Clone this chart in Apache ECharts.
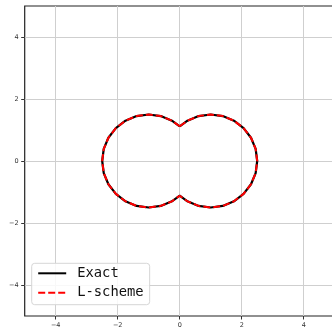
<!DOCTYPE html>
<html>
<head>
<meta charset="utf-8">
<script src="https://cdn.jsdelivr.net/npm/echarts@6/dist/echarts.min.js"></script>
<style>
  html, body { margin: 0; padding: 0; background: #fff; }
  #chart { width: 332px; height: 329px; }
</style>
</head>
<body>
<div id="chart"></div>
<script>
// Closed boundary of the two-lobe domain (x, y), traced clockwise from the upper notch.
const exactX = [0, 0.25, 0.61, 1.0, 1.39, 1.75, 2.06, 2.30, 2.45, 2.5, 2.45, 2.30, 2.06, 1.75, 1.39, 1.0, 0.61, 0.25,
                0, -0.25, -0.61, -1.0, -1.39, -1.75, -2.06, -2.30, -2.45, -2.5, -2.45, -2.30, -2.06, -1.75, -1.39, -1.0, -0.61, -0.25, 0];
const exactY = [1.12, 1.30, 1.45, 1.5, 1.45, 1.30, 1.06, 0.75, 0.39, 0, -0.39, -0.75, -1.06, -1.30, -1.45, -1.5, -1.45, -1.30,
                -1.12, -1.30, -1.45, -1.5, -1.45, -1.30, -1.06, -0.75, -0.39, 0, 0.39, 0.75, 1.06, 1.30, 1.45, 1.5, 1.45, 1.30, 1.12];
// L-scheme solution lies on top of the exact boundary.
const lschemeX = exactX.slice();
const lschemeY = exactY.slice();

const seriesNames = ['Exact', 'L-scheme'];
const tickValues = [-4, -2, 0, 2, 4];

const pairs = (xs, ys) => xs.map((x, i) => [x, ys[i]]);

const chart = echarts.init(document.getElementById('chart'));

const makeAxis = () => ({
  type: 'value',
  min: -5,
  max: 5,
  axisLine: { show: false, onZero: false },
  axisTick: { show: true, customValues: tickValues, length: 3.5, lineStyle: { color: '#333', width: 1 } },
  splitLine: { show: true, lineStyle: { color: '#cfcfcf', width: 1 } },
  axisLabel: {
    customValues: tickValues,
    fontFamily: 'DejaVu Sans',
    fontSize: 6.5,
    color: '#333',
    margin: 6,
    formatter: v => String(v).replace('-', '\u2212')
  }
});

chart.setOption({
  animation: false,
  backgroundColor: '#fff',
  grid: {
    left: 24.7, top: 6, width: 310, height: 310,
    show: true, borderColor: '#222', borderWidth: 1.2, backgroundColor: 'transparent',
    containLabel: false,
    outerBoundsMode: 'none'
  },
  xAxis: makeAxis(),
  yAxis: makeAxis(),
  legend: {
    left: 31.7, top: 263.3,
    orient: 'vertical',
    data: seriesNames,
    itemWidth: 28,
    itemHeight: 16,
    itemGap: 5.4,
    padding: [3, 6, 5, 5.5],
    backgroundColor: 'rgba(255,255,255,0.85)',
    borderColor: '#d6d6d6',
    borderWidth: 1,
    borderRadius: 3,
    itemStyle: { opacity: 0 },
    textStyle: {
      fontFamily: 'DejaVu Sans Mono',
      fontSize: 13.8,
      color: '#111',
      padding: [0, 0, 0, 6]
    }
  },
  series: [
    {
      name: seriesNames[0],
      type: 'line',
      data: pairs(exactX, exactY),
      symbol: 'none',
      smooth: false,
      lineStyle: { color: '#000', width: 2.2 },
      itemStyle: { color: '#000' },
      z: 2
    },
    {
      name: seriesNames[1],
      type: 'line',
      data: pairs(lschemeX, lschemeY),
      symbol: 'none',
      smooth: false,
      lineStyle: { color: '#ff0000', width: 2, type: [7, 3] },
      itemStyle: { color: '#ff0000' },
      z: 3
    }
  ]
});
</script>
</body>
</html>
